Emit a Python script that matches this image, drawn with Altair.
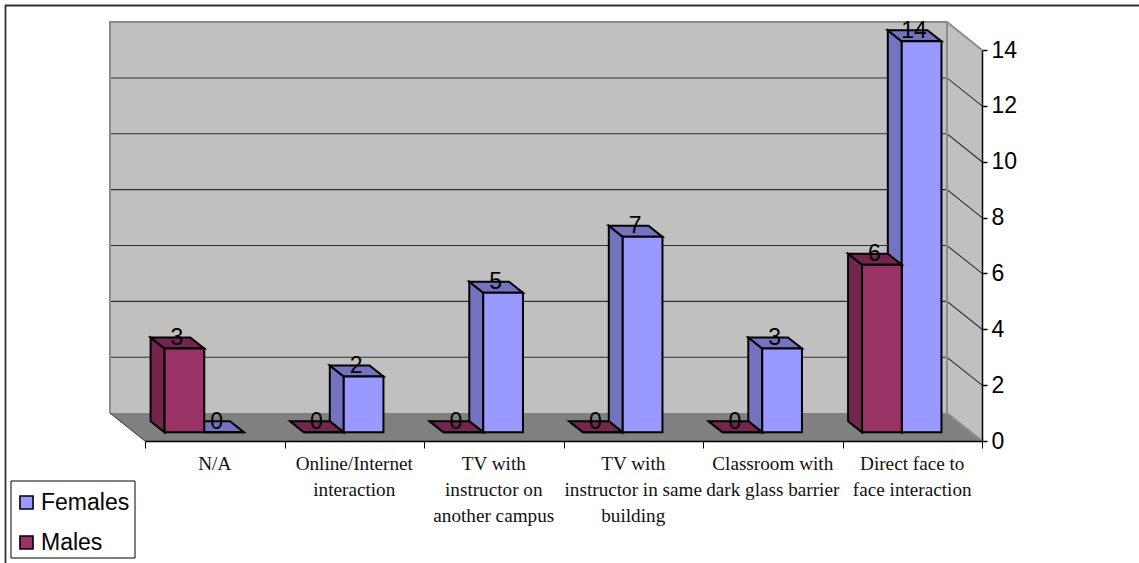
import altair as alt
import pandas as pd

categories = [
    "N/A",
    "Online/Internet\ninteraction",
    "TV with\ninstructor on\nanother campus",
    "TV with\ninstructor in same\nbuilding",
    "Classroom with\ndark glass barrier",
    "Direct face to\nface interaction",
]
females = [0, 2, 5, 7, 3, 14]
males = [3, 0, 0, 0, 0, 6]
ticks = [0, 2, 4, 6, 8, 10, 12, 14]

# Oblique projection, in axis units: one x unit is a category slot, one y unit is a count.
WALL_DX, WALL_DY = -0.251, 1.0
BAR_DX, BAR_DY = -0.100, 0.394
BAR_LIFT = 0.31
BAR_W = 0.2847
BAR_START = 0.14
LABEL_DX, LABEL_DY = -0.054, 0.376

FEMALE, FEMALE_DARK = "#9999FF", "#7373BF"
MALE, MALE_DARK = "#993366", "#73264D"
WALL, FLOOR, EDGE = "#C0C0C0", "#808080", "#8C8C8C"
SANS, SERIF = "Liberation Sans", "Liberation Serif"

x_scale = alt.Scale(domain=[0, 6], nice=False, zero=False)
y_scale = alt.Scale(domain=[0, 14], nice=False, zero=False)
color_scale = alt.Scale(domain=["Females", "Males"], range=[FEMALE, MALE])

x_axis = alt.Axis(
    title=None, values=list(range(7)), labels=False, grid=False, orient="bottom",
    domainColor="black", domainWidth=1.5, tickColor="black", tickWidth=1,
    tickSize=7, zindex=1,
)
y_axis = alt.Axis(
    title=None, values=ticks, grid=False, orient="right",
    domainColor="black", domainWidth=1.5, tickColor="black", tickWidth=1.5,
    tickSize=5, labelFont=SANS, labelFontSize=23, labelColor="black",
    labelPadding=4, zindex=1,
)
legend = alt.Legend(
    title=None,
    orient="none",
    legendX=-130,
    legendY=441,
    direction="vertical",
    padding=0,
    symbolType="square",
    symbolSize=170,
    symbolStrokeWidth=1.6,
    symbolStrokeColor="black",
    labelFont=SANS,
    labelFontSize=23,
    labelColor="black",
    labelLimit=200,
    rowPadding=16,
    labelOffset=3,
)


def X(field="x"):
    return alt.X(f"{field}:Q", scale=x_scale, axis=x_axis)


def Y(field="y"):
    return alt.Y(f"{field}:Q", scale=y_scale, axis=y_axis)


# Bar geometry for one series, slot position `slot` within each category.
def bar_frames(values, series, slot):
    fronts, sides, tops, labels = [], [], [], []
    for i, v in enumerate(values):
        left = i + BAR_START + slot * BAR_W
        right = left + BAR_W
        base, top = BAR_LIFT, v + BAR_LIFT
        fronts.append(dict(x=left, x2=right, y=base, y2=top, series=series))
        sides.append(dict(id=i, x=left + BAR_DX, y=base + BAR_DY, y2=top + BAR_DY))
        sides.append(dict(id=i, x=left, y=base, y2=top))
        tops.append(dict(id=i, y=top, x=left, x2=right))
        tops.append(dict(id=i, y=top + BAR_DY, x=left + BAR_DX, x2=right + BAR_DX))
        labels.append(dict(x=(left + right) / 2 + LABEL_DX, y=top + LABEL_DY, v=str(v)))
    return map(pd.DataFrame, (fronts, sides, tops, labels))


def bar_layers(values, series, slot, dark):
    fronts, sides, tops, labels = bar_frames(values, series, slot)
    side = alt.Chart(sides).mark_area(
        orient="vertical", fill=dark, stroke="black", strokeWidth=2
    ).encode(x=X(), y=Y(), y2="y2:Q", detail="id:N")
    top = alt.Chart(tops).mark_area(
        orient="horizontal", fill=dark, stroke="black", strokeWidth=2
    ).encode(y=Y(), x=X(), x2="x2:Q", detail="id:N")
    front = alt.Chart(fronts).mark_rect(stroke="black", strokeWidth=2).encode(
        x=X(), x2="x2:Q", y=Y(), y2="y2:Q",
        color=alt.Color("series:N", scale=color_scale, legend=legend),
    )
    return [side, top, front], labels


back_wall = alt.Chart(
    pd.DataFrame([dict(x=WALL_DX, x2=6 + WALL_DX, y=WALL_DY, y2=14 + WALL_DY)])
).mark_rect(fill=WALL).encode(x=X(), x2="x2:Q", y=Y(), y2="y2:Q")

side_wall = alt.Chart(
    pd.DataFrame(
        [
            dict(x=6 + WALL_DX, y=WALL_DY, y2=14 + WALL_DY),
            dict(x=6, y=0, y2=14),
        ]
    )
).mark_area(orient="vertical", fill=WALL).encode(x=X(), y=Y(), y2="y2:Q")

floor = alt.Chart(
    pd.DataFrame(
        [
            dict(y=0, x=0, x2=6),
            dict(y=WALL_DY, x=WALL_DX, x2=6 + WALL_DX),
        ]
    )
).mark_area(orient="horizontal", fill=FLOOR).encode(y=Y(), x=X(), x2="x2:Q")

# Gridlines run along the back wall and turn down the side wall.
grid_rows = []
for v in ticks[1:-1]:
    grid_rows += [
        dict(v=v, o=0, x=WALL_DX, y=v + WALL_DY),
        dict(v=v, o=1, x=6 + WALL_DX, y=v + WALL_DY),
        dict(v=v, o=2, x=6, y=v),
    ]
grid = alt.Chart(pd.DataFrame(grid_rows)).mark_line(
    color="#303030", strokeWidth=1.1
).encode(x=X(), y=Y(), detail="v:N", order="o:Q")

edge_rows = [
    dict(path=0, o=0, x=WALL_DX, y=WALL_DY),
    dict(path=0, o=1, x=WALL_DX, y=14 + WALL_DY),
    dict(path=0, o=2, x=6 + WALL_DX, y=14 + WALL_DY),
    dict(path=0, o=3, x=6, y=14),
    dict(path=1, o=0, x=6 + WALL_DX, y=14 + WALL_DY),
    dict(path=1, o=1, x=6 + WALL_DX, y=WALL_DY),
    dict(path=1, o=2, x=6, y=0),
]
edges = alt.Chart(pd.DataFrame(edge_rows)).mark_line(
    color=EDGE, strokeWidth=2
).encode(x=X(), y=Y(), detail="path:N", order="o:Q")

floor_edge = alt.Chart(
    pd.DataFrame([dict(o=0, x=WALL_DX, y=WALL_DY), dict(o=1, x=0, y=0)])
).mark_line(color="#303030", strokeWidth=1).encode(x=X(), y=Y(), order="o:Q")

female_layers, female_labels = bar_layers(females, "Females", 1, FEMALE_DARK)
male_layers, male_labels = bar_layers(males, "Males", 0, MALE_DARK)

value_labels = alt.Chart(pd.concat([female_labels, male_labels])).mark_text(
    font=SANS, fontSize=23, color="black", align="center", baseline="middle"
).encode(x=X(), y=Y(), text="v:N")

category_labels = alt.Chart(
    pd.DataFrame({"x": [i + 0.5 for i in range(len(categories))], "label": categories})
).mark_text(
    font=SERIF, fontSize=19.2, color="#111111", align="center", baseline="top",
    lineBreak="\n", lineHeight=26,
).encode(x=X(), y=alt.value(405), text="label:N")

# Page frame: only the top and left sides fall inside the canvas.
frame_top = alt.Chart(pd.DataFrame({"a": [0]})).mark_rule(
    color="#303030", strokeWidth=1.8
).encode(x=alt.value(-140), x2=alt.value(1000), y=alt.value(-44.5))
frame_left = alt.Chart(pd.DataFrame({"a": [0]})).mark_rule(
    color="#303030", strokeWidth=1.8
).encode(x=alt.value(-139.5), y=alt.value(-45), y2=alt.value(520))

# Outline around the series key.
legend_box = alt.Chart(pd.DataFrame({"a": [0]})).mark_rect(
    fill="transparent", stroke="black", strokeWidth=1
).encode(x=alt.value(-134), x2=alt.value(-10), y=alt.value(431), y2=alt.value(508))

chart = alt.layer(
    back_wall, side_wall, floor, grid, edges, floor_edge,
    *female_layers, *male_layers,
    value_labels, category_labels, frame_top, frame_left, legend_box,
).resolve_scale(color="shared").properties(
    width=837,
    height=391,
    padding={"left": 145, "top": 50, "right": 157, "bottom": 122},
    autosize=alt.AutoSizeParams(type="none"),
    background="white",
).configure_view(stroke=None)

chart.save("out.html", embed_options={"renderer": "svg", "actions": False})
